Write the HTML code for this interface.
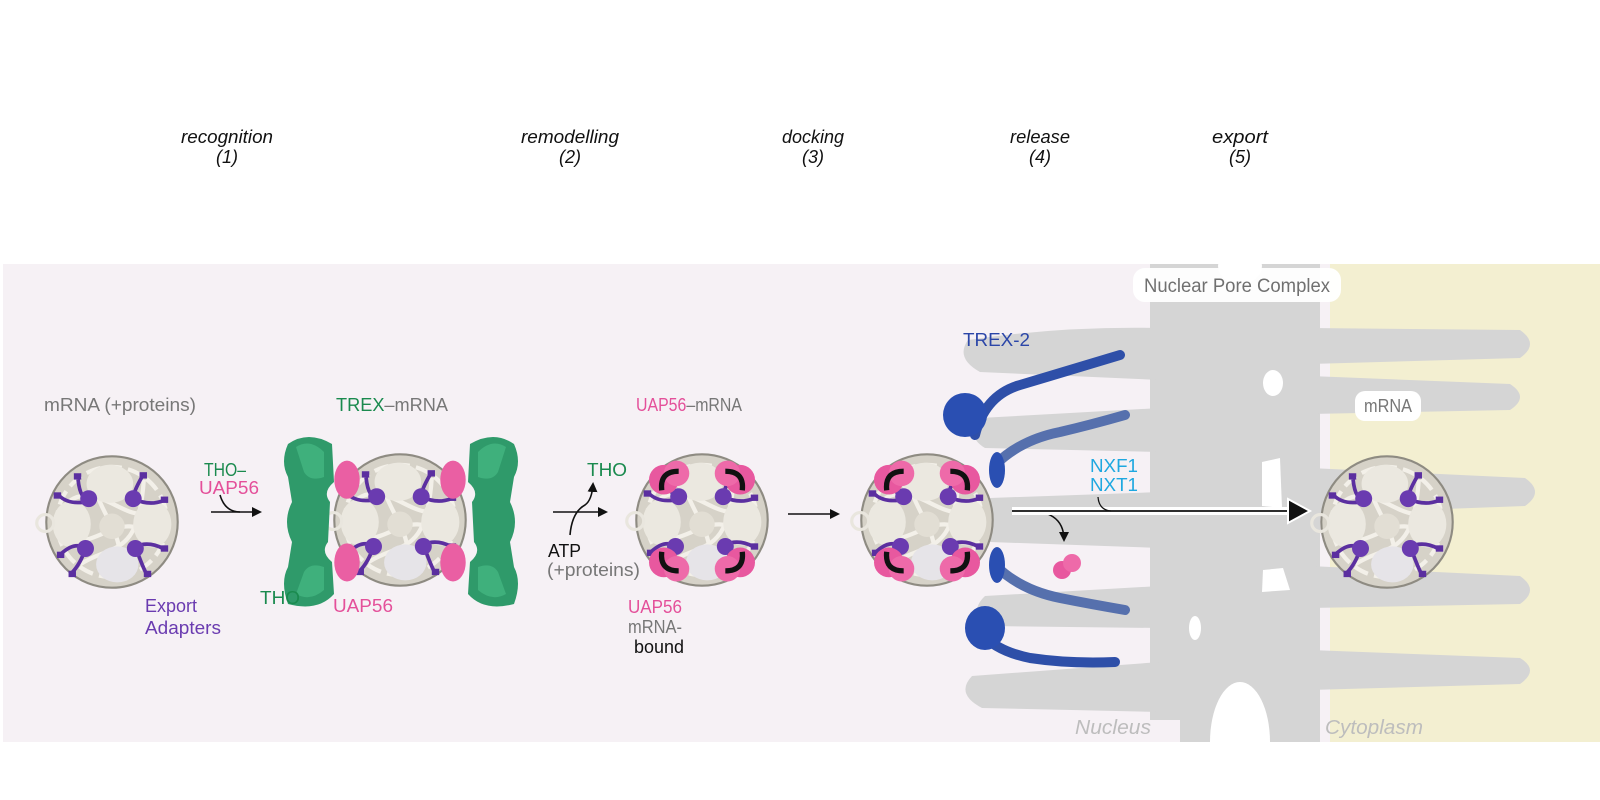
<!DOCTYPE html>
<html><head><meta charset="utf-8"><style>
html,body{margin:0;padding:0;background:#fff;width:1600px;height:800px;overflow:hidden}
svg{display:block}
text{font-family:"Liberation Sans",sans-serif}
</style></head><body>
<svg width="1600" height="800" viewBox="0 0 1600 800" xmlns="http://www.w3.org/2000/svg">
<defs>
<g id="core">
  <circle r="62" fill="#d6d2c8" stroke="#8e8b82" stroke-width="2"/>
  <circle r="52" fill="none" stroke="#f3f0e9" stroke-width="4" stroke-dasharray="14 6"/>
  <path d="M-40-20 C-10-40 20 10 40-15 M-45 15 C-15 30 10-20 45 20 M-20-45 C-10 0 15 10 5 50 M-30 40 C0 20 25 35 30-40" fill="none" stroke="#f3f0e9" stroke-width="4"/>
  <ellipse cx="-2" cy="-36" rx="22" ry="18" fill="#ebe8e0"/>
  <ellipse cx="-38" cy="2" rx="18" ry="22" fill="#ebe8e0"/>
  <ellipse cx="38" cy="2" rx="18" ry="22" fill="#ebe8e0"/>
  <ellipse cx="5" cy="40" rx="20" ry="17" fill="#e6e4e8"/>
  <ellipse cx="0" cy="4" rx="12" ry="12" fill="#e2ded4"/>
  <circle cx="-63" cy="1" r="8" fill="none" stroke="#e9e6de" stroke-width="3"/>
</g>
<g id="adapt">
  <path d="M-32-40 Q-30-20-20-20 Q-40-15-50-25" fill="none" stroke="#5b2fa0" stroke-width="3.5"/>
  <circle cx="-22" cy="-22" r="8" fill="#6a3bb0"/>
  <path d="M28-42 Q20-28 20-22 Q35-15 48-20" fill="none" stroke="#5b2fa0" stroke-width="3.5"/>
  <circle cx="20" cy="-22" r="8" fill="#6a3bb0"/>
  <path d="M-48 30 Q-35 18-25 25 Q-30 40-38 48" fill="none" stroke="#5b2fa0" stroke-width="3.5"/>
  <circle cx="-25" cy="25" r="8" fill="#6a3bb0"/>
  <path d="M48 25 Q35 18 22 23 Q28 40 32 48" fill="none" stroke="#5b2fa0" stroke-width="3.5"/>
  <circle cx="22" cy="25" r="8" fill="#6a3bb0"/>
  <g fill="#5b2fa0"><rect x="-36" y="-46" width="7" height="6"/><rect x="26" y="-47" width="7" height="6"/><rect x="-55" y="-28" width="7" height="6"/><rect x="46" y="-24" width="7" height="6"/><rect x="-52" y="28" width="7" height="6"/><rect x="46" y="22" width="7" height="6"/><rect x="-41" y="46" width="7" height="6"/><rect x="30" y="46" width="7" height="6"/></g>
</g>
<g id="uap">
  <circle cx="-36" cy="-38" r="14" fill="#e8589f"/><circle cx="-24" cy="-44" r="12" fill="#ee6aa9"/>
  <path d="M-22-46 Q-40-46-38-28" fill="none" stroke="#111" stroke-width="5"/>
  <circle cx="36" cy="-38" r="14" fill="#e8589f"/><circle cx="24" cy="-44" r="12" fill="#ee6aa9"/>
  <path d="M22-46 Q40-46 38-28" fill="none" stroke="#111" stroke-width="5"/>
  <circle cx="-36" cy="40" r="14" fill="#e8589f"/><circle cx="-24" cy="46" r="12" fill="#ee6aa9"/>
  <path d="M-22 48 Q-40 48-38 30" fill="none" stroke="#111" stroke-width="5"/>
  <circle cx="36" cy="40" r="14" fill="#e8589f"/><circle cx="24" cy="46" r="12" fill="#ee6aa9"/>
  <path d="M22 48 Q40 48 38 30" fill="none" stroke="#111" stroke-width="5"/>
</g>
<g id="tho">
  <path d="M-30-78 Q-10-92 14-78 L16-40 Q4-30 12-20 L10 20 Q2 30 14 40 L16 72 Q0 90-30 82 Q-38 60-30 45 L-26 20 Q-36 0-26-20 L-30-45 Q-38-60-30-78Z" fill="#2f9a6a"/>
  <path d="M-22-75 Q-8-84 6-70 L6-45 Q-8-40-14-50Z M-22 72 Q-8 80 6 68 L6 45 Q-8 40-14 50Z" fill="#3fb07c"/>
</g>
<marker id="ah" markerWidth="10" markerHeight="10" refX="8" refY="5" orient="auto" markerUnits="userSpaceOnUse"><path d="M0 0L10 5L0 10Z" fill="#111"/></marker>
</defs>

<g font-style="italic" font-size="18" fill="#111" text-anchor="middle">
<text x="227" y="143" textLength="92" lengthAdjust="spacingAndGlyphs">recognition</text><text x="227" y="163">(1)</text>
<text x="570" y="143" textLength="98" lengthAdjust="spacingAndGlyphs">remodelling</text><text x="570" y="163">(2)</text>
<text x="813" y="143" textLength="62" lengthAdjust="spacingAndGlyphs">docking</text><text x="813" y="163">(3)</text>
<text x="1040" y="143" textLength="60" lengthAdjust="spacingAndGlyphs">release</text><text x="1040" y="163">(4)</text>
<text x="1240" y="143" textLength="56" lengthAdjust="spacingAndGlyphs">export</text><text x="1240" y="163">(5)</text>
</g>

<rect x="3" y="264" width="1597" height="478" fill="#f6f1f5"/>
<rect x="1330" y="264" width="270" height="478" fill="#f3efd1"/>

<g fill="#d5d5d5">
<path d="M1150 264 L1320 264 L1320 742 L1180 742 L1180 720 L1150 720 Z"/>
<path d="M968 340 Q955 358 980 372 L1160 380 L1160 328 Q1060 326 968 340Z"/>
<path d="M980 418 Q965 436 985 448 L1160 452 L1160 408 Z"/>
<path d="M990 498 L1160 492 L1160 548 L990 542 Q975 520 990 498Z"/>
<path d="M985 596 Q968 612 988 626 L1160 628 L1160 586 Z"/>
<path d="M972 676 Q955 694 982 708 L1160 712 L1160 662 Z"/>
<path d="M1310 328 L1520 330 Q1540 344 1520 358 L1310 364Z"/>
<path d="M1310 376 L1510 384 Q1530 397 1510 410 L1310 414Z"/>
<path d="M1310 468 L1525 478 Q1545 492 1525 506 L1310 514Z"/>
<path d="M1310 566 L1520 576 Q1540 590 1520 604 L1310 608Z"/>
<path d="M1310 650 L1520 658 Q1540 670 1520 684 L1310 690Z"/>
</g>
<g fill="#ffffff">
<ellipse cx="1240" cy="266" rx="22" ry="18"/>
<ellipse cx="1273" cy="383" rx="10" ry="13"/>
<path d="M1262 462 L1280 458 L1282 508 L1262 506Z"/>
<path d="M1263 570 L1283 568 L1290 590 L1262 592Z"/>
<ellipse cx="1195" cy="628" rx="6" ry="12"/>
<ellipse cx="1240" cy="742" rx="30" ry="60"/>
</g>
<rect x="0" y="742" width="1600" height="58" fill="#fff"/>

<rect x="1133" y="268" width="208" height="34" rx="12" fill="#fff" opacity="0.95"/>
<text x="1237" y="292" font-size="19" fill="#707070" text-anchor="middle" textLength="186" lengthAdjust="spacingAndGlyphs">Nuclear Pore Complex</text>
<rect x="1355" y="391" width="66" height="30" rx="10" fill="#fff"/>
<g font-size="20" font-style="italic" fill="#bdbdbd">
<text x="1075" y="734" textLength="76" lengthAdjust="spacingAndGlyphs">Nucleus</text><text x="1325" y="734" textLength="98" lengthAdjust="spacingAndGlyphs">Cytoplasm</text></g>

<g transform="translate(112 522) scale(1.06)"><use href="#core"/><use href="#adapt"/></g>

<g transform="translate(400 520) scale(1.06)"><use href="#core"/><use href="#adapt"/>
<ellipse cx="-50" cy="-38" rx="12" ry="18" fill="#ea5fa3"/><ellipse cx="50" cy="-38" rx="12" ry="18" fill="#ea5fa3"/>
<ellipse cx="-50" cy="40" rx="12" ry="18" fill="#ea5fa3"/><ellipse cx="50" cy="40" rx="12" ry="18" fill="#ea5fa3"/>
</g>
<g transform="translate(318 522)"><use href="#tho"/></g>
<g transform="translate(484 522) scale(-1 1)"><use href="#tho"/></g>

<g transform="translate(702 520) scale(1.06)"><use href="#core"/><use href="#adapt"/><use href="#uap"/></g>

<g fill="none" stroke-linecap="round" stroke-width="10">
<path d="M975 435 Q985 395 1020 385 Q1070 370 1120 355" stroke="#2e4fa8"/>
<path d="M995 465 Q1020 440 1060 432 Q1090 425 1125 415" stroke="#5670ad"/>
<path d="M995 565 Q1020 590 1060 598 Q1090 604 1125 610" stroke="#5670ad"/>
<path d="M975 625 Q990 650 1030 658 Q1070 664 1115 662" stroke="#2e4fa8"/>
</g>
<g fill="#2a4fb2">
<ellipse cx="965" cy="415" rx="22" ry="22"/><ellipse cx="985" cy="628" rx="20" ry="22"/>
<ellipse cx="997" cy="470" rx="8" ry="18"/><ellipse cx="997" cy="565" rx="8" ry="18"/>
</g>
<g transform="translate(927 520) scale(1.06)"><use href="#core"/><use href="#adapt"/><use href="#uap"/></g>

<g transform="translate(1387 522) scale(1.06)"><use href="#core"/><use href="#adapt"/></g>

<circle cx="1062" cy="570" r="9" fill="#e8589f"/><circle cx="1072" cy="563" r="9" fill="#ee6aa9"/>

<g font-size="18">
<text x="44" y="411" fill="#777" textLength="152" lengthAdjust="spacingAndGlyphs">mRNA (+proteins)</text>
<text x="336" y="411" fill="#1a8a4e" textLength="112" lengthAdjust="spacingAndGlyphs">TREX<tspan fill="#777">–mRNA</tspan></text>
<text x="636" y="411" fill="#e4509a" textLength="106" lengthAdjust="spacingAndGlyphs">UAP56<tspan fill="#777">–mRNA</tspan></text>
<text x="1364" y="412" fill="#777" textLength="48" lengthAdjust="spacingAndGlyphs">mRNA</text>
<text x="145" y="612" fill="#6a3bb0" textLength="52" lengthAdjust="spacingAndGlyphs">Export</text><text x="145" y="634" fill="#6a3bb0" textLength="76" lengthAdjust="spacingAndGlyphs">Adapters</text>
<text x="204" y="476" fill="#1a8a4e" textLength="42" lengthAdjust="spacingAndGlyphs">THO–</text><text x="199" y="494" fill="#e4509a" textLength="60" lengthAdjust="spacingAndGlyphs">UAP56</text>
<text x="260" y="604" fill="#1a8a4e" textLength="40" lengthAdjust="spacingAndGlyphs">THO</text>
<text x="333" y="612" fill="#e4509a" textLength="60" lengthAdjust="spacingAndGlyphs">UAP56</text>
<text x="587" y="476" fill="#1a8a4e" textLength="40" lengthAdjust="spacingAndGlyphs">THO</text>
<text x="548" y="557" fill="#111" textLength="33" lengthAdjust="spacingAndGlyphs">ATP</text><text x="547" y="576" fill="#777" textLength="93" lengthAdjust="spacingAndGlyphs">(+proteins)</text>
<text x="628" y="613" fill="#e4509a" textLength="54" lengthAdjust="spacingAndGlyphs">UAP56</text><text x="628" y="633" fill="#777" textLength="54" lengthAdjust="spacingAndGlyphs">mRNA-</text><text x="634" y="653" fill="#111" textLength="50" lengthAdjust="spacingAndGlyphs">bound</text>
<text x="963" y="346" fill="#2b46a8" textLength="67" lengthAdjust="spacingAndGlyphs">TREX-2</text>
<text x="1090" y="472" fill="#1fa8e0" textLength="48" lengthAdjust="spacingAndGlyphs">NXF1</text><text x="1090" y="491" fill="#1fa8e0" textLength="48" lengthAdjust="spacingAndGlyphs">NXT1</text>
</g>

<g stroke="#111" stroke-width="1.6" fill="none">
<path d="M211 512 L260 512" marker-end="url(#ah)"/>
<path d="M220 495 Q225 512 240 512"/>
<path d="M553 512 L606 512" marker-end="url(#ah)"/>
<path d="M570 535 Q572 512 585 505 Q592 500 593 484" marker-end="url(#ah)"/>
<path d="M788 514 L838 514" marker-end="url(#ah)"/>
<path d="M1020 511 Q1064 508 1064 540" marker-end="url(#ah)"/>
</g>
<path d="M1012 511 L1292 511" stroke="#fff" stroke-width="8"/>
<path d="M1012 511 L1290 511" stroke="#111" stroke-width="1.8"/>
<path d="M1288 499 L1310 511 L1288 523Z" fill="#111" stroke="#fff" stroke-width="2"/>
<path d="M1098 497 Q1099 510 1111 511" stroke="#111" stroke-width="1.3" fill="none"/>
</svg>
</body></html>
